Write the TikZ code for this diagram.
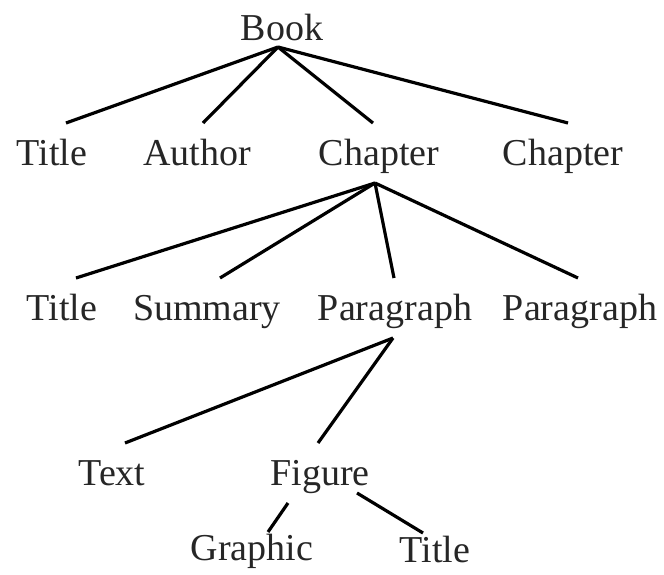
\documentclass[tikz,border=0pt]{standalone}
\usepackage{fontspec}
\setmainfont{Liberation Serif}
\usepackage{tikz}
\usetikzlibrary{positioning,calc}

\begin{document}
\begin{tikzpicture}[
  x=1pt, y=-1pt,
  lbl/.style={font=\fontsize{38}{40}\selectfont\color{black!85}, inner sep=0pt, anchor=base},
  edge/.style={draw=black, line width=3.2pt},
]
\useasboundingbox (0,0) rectangle (664,574);

% Level 0 and 1
\node[lbl] (book) at (282,40) {Book};
\node[lbl] (t1)  at (52,165)  {Title};
\node[lbl] (au)  at (197,165) {Author};
\node[lbl] (ch1) at (379,165) {Chapter};
\node[lbl] (ch2) at (563,165) {Chapter};

% Level 2
\node[lbl] (t2)  at (62,320)  {Title};
\node[lbl] (su)  at (207,320) {Summary};
\node[lbl] (pa1) at (395,320) {Paragraph};
\node[lbl] (pa2) at (580,320) {Paragraph};

% Level 3 and 4
\node[lbl] (tx)  at (112,485) {Text};
\node[lbl] (fi)  at (320,485) {Figure};
\node[lbl] (gr)  at (252,560) {Graphic};
\node[lbl] (t3)  at (435,562) {Title};

% Parent foot / child head, as offsets from the base anchors
\foreach \p/\px/\py/\c/\cx in {%
  book/-4/7/t1/14, book/-4/7/au/6, book/-4/7/ch1/-6, book/-4/7/ch2/5,
  ch1/-4/18/t2/14, ch1/-4/18/su/13, ch1/-4/18/pa1/-1, ch1/-4/18/pa2/-2,
  pa1/-2/18/tx/13, pa1/-2/18/fi/-2%
} {
  \draw[edge] ([shift={(\px,\py)}]\p.base) -- ([shift={(\cx,-42)}]\c.base);
}
% Figure's two short branches
\draw[edge] ([shift={(-32,18)}]fi.base) -- ([shift={(16,-28)}]gr.base);
\draw[edge] ([shift={(37,8)}]fi.base) -- ([shift={(-12,-29)}]t3.base);
\end{tikzpicture}
\end{document}
